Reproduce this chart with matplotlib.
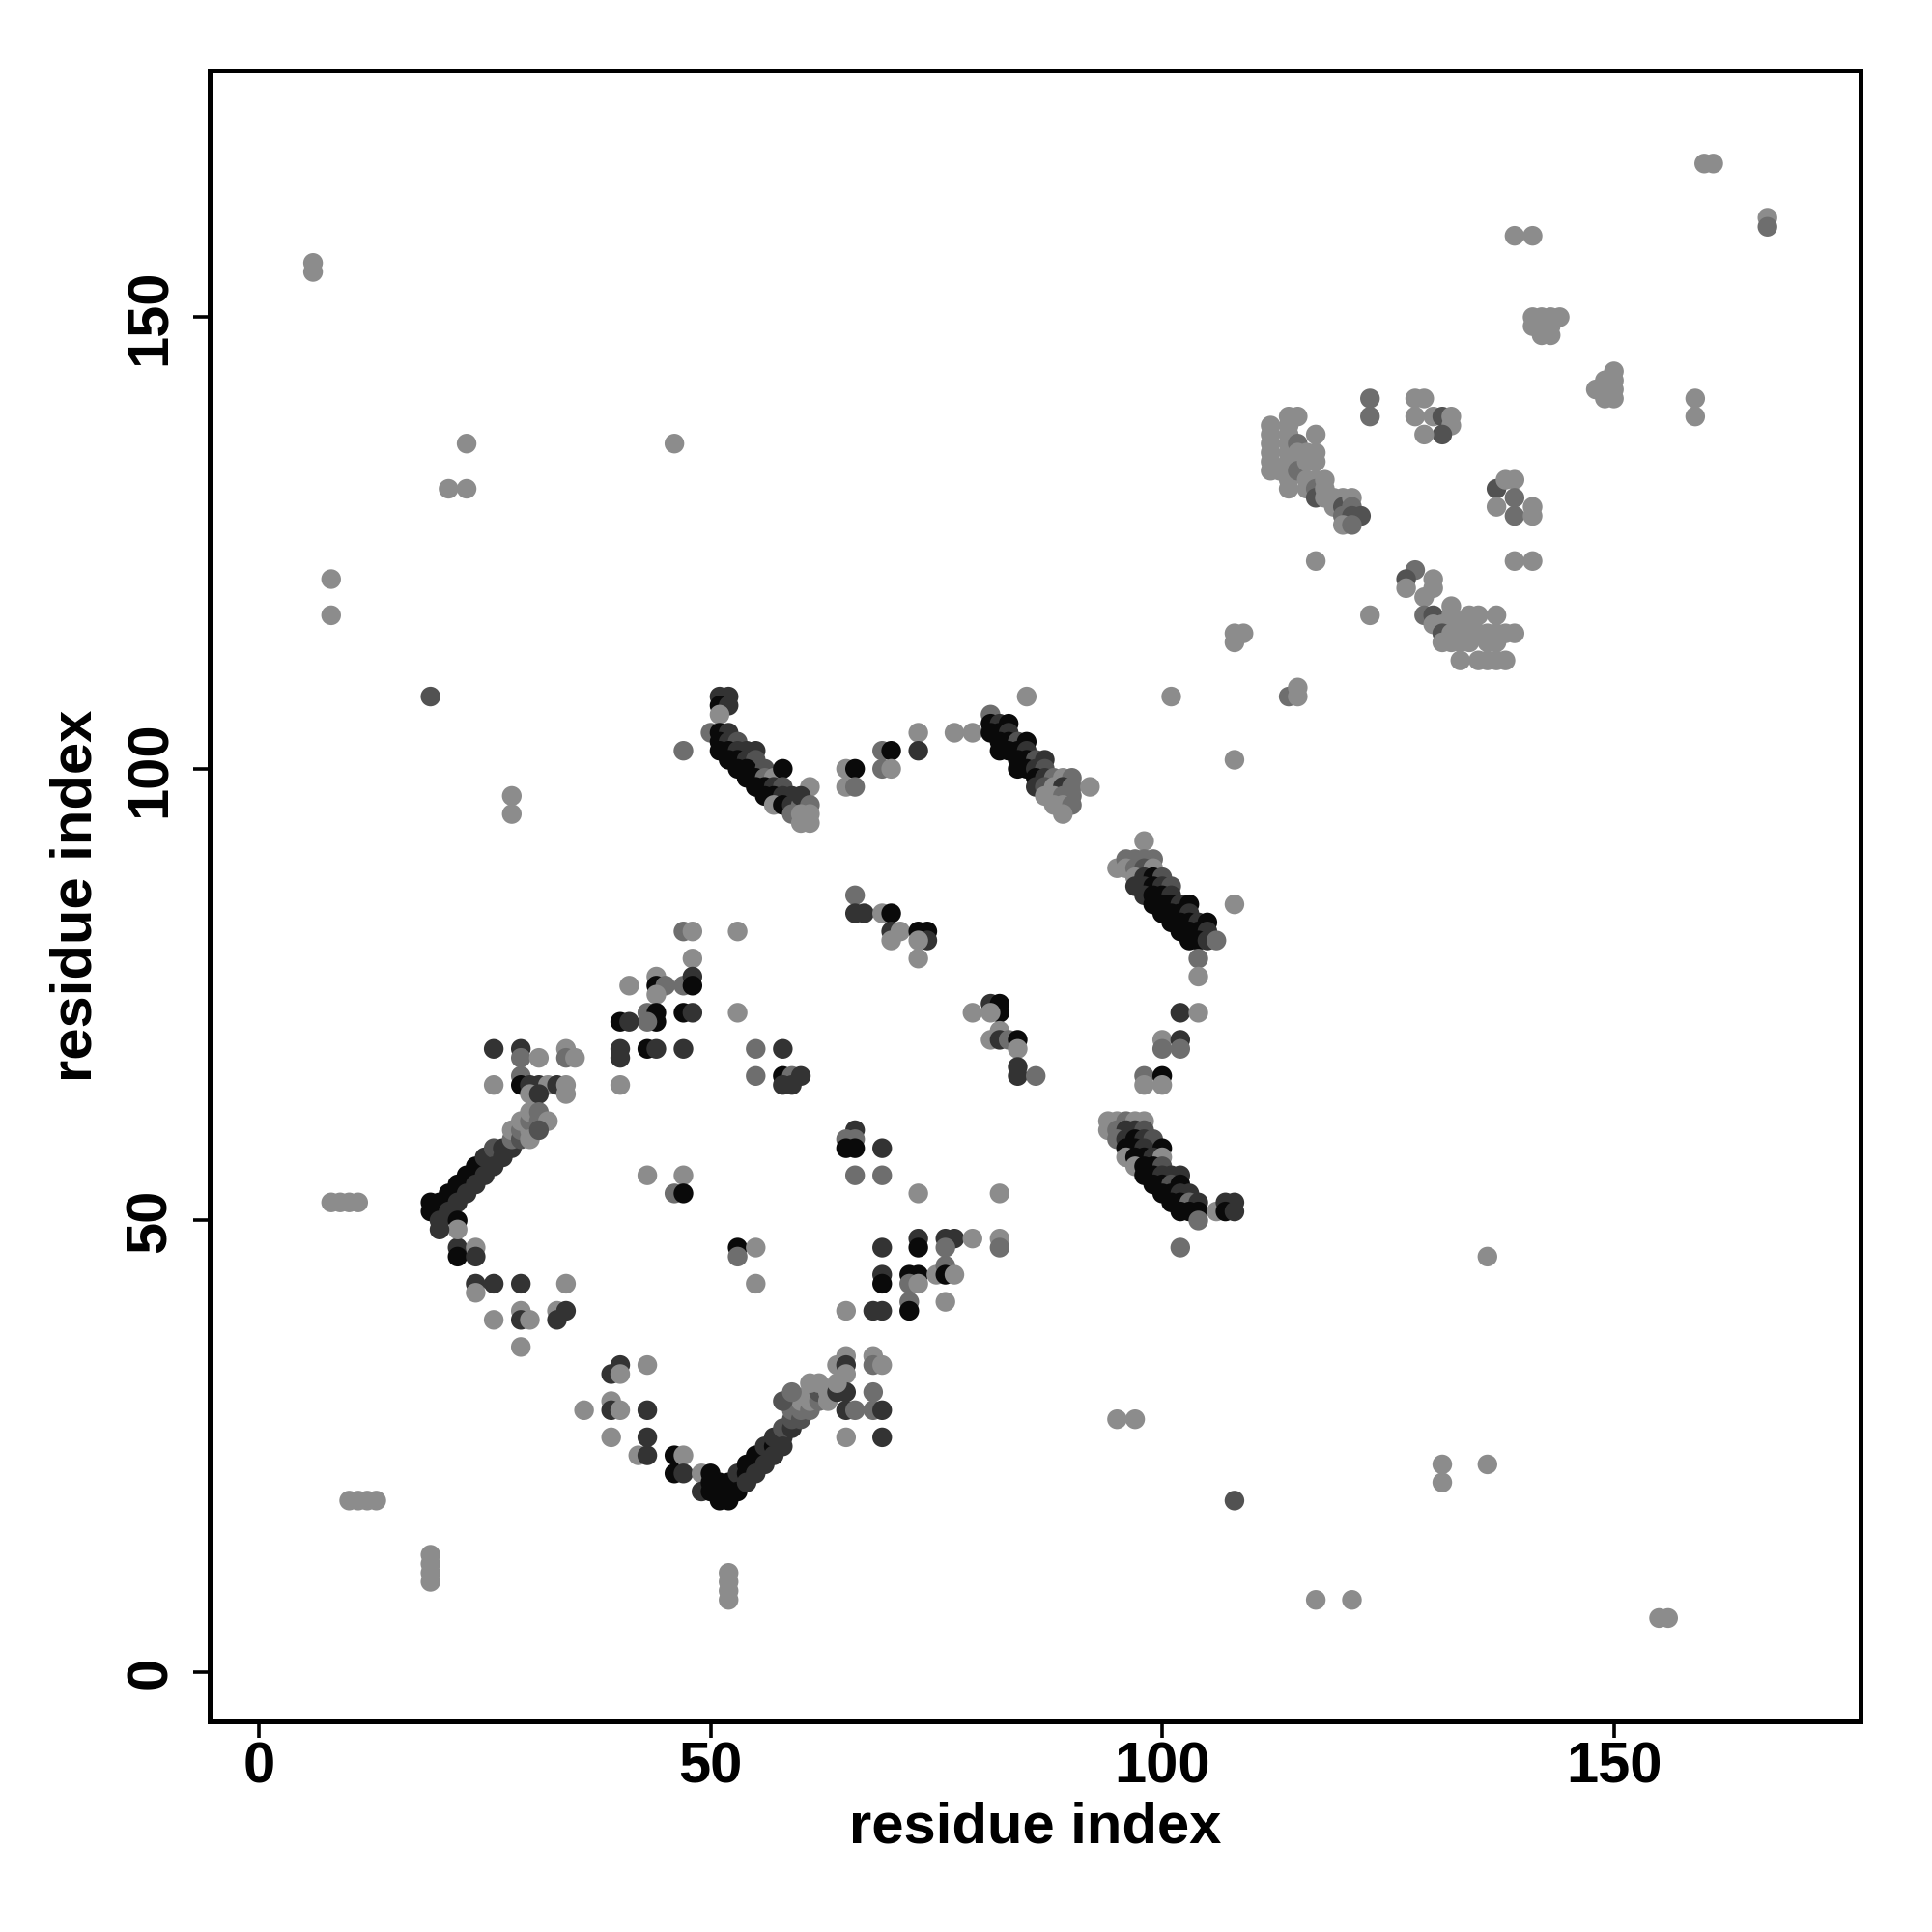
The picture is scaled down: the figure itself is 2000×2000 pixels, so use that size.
import matplotlib
matplotlib.use("Agg")
import matplotlib.pyplot as plt

# grey level per contact class (0 = black, 1 = white)
levels = {"K": 0.04, "D": 0.20, "M": 0.32, "G": 0.43, "L": 0.55}

# contacts: (residue i, residue j, class)
lower_v = [
    (22,47,"D"),(22,46,"K"),(24,47,"L"),(24,46,"D"),
    (24,43,"D"),(24,42,"L"),(26,43,"D"),(29,43,"D"),(34,43,"L"),
    (26,39,"L"),(29,40,"L"),(29,39,"D"),(30,39,"L"),(33,40,"L"),(34,40,"D"),(33,39,"D"),
    (29,36,"L"),(40,34,"D"),(39,33,"D"),(40,33,"L"),(43,34,"L"),
    (39,30,"L"),(36,29,"L"),(39,29,"D"),(40,29,"L"),(43,29,"D"),
    (39,26,"L"),(43,26,"D"),(42,24,"L"),(43,24,"D"),(46,24,"K"),(47,24,"L"),
    (46,22,"K"),(47,22,"D"),(49,22,"L"),
]
lower_band = [
    (49,20,"D"),(50,22,"K"),(50,21,"K"),(50,20,"K"),(51,21,"K"),(51,20,"K"),(51,19,"K"),
    (52,20,"K"),(52,19,"K"),(52,21,"K"),(53,21,"K"),(53,22,"D"),(53,20,"K"),
    (54,22,"K"),(54,23,"K"),(54,21,"D"),(55,23,"K"),(55,24,"K"),(55,22,"D"),
    (56,24,"K"),(56,25,"D"),(56,23,"D"),(57,25,"K"),(57,26,"D"),(57,24,"D"),
    (58,26,"D"),(58,27,"M"),(58,25,"D"),(59,27,"D"),(59,28,"M"),(59,29,"G"),
    (60,28,"M"),(60,29,"G"),(60,30,"L"),(61,29,"G"),(61,30,"L"),(61,31,"L"),
    (62,30,"G"),(62,31,"M"),(63,31,"L"),(63,30,"L"),(64,31,"D"),(65,31,"D"),
    (64,32,"L"),(62,32,"L"),(58,30,"M"),(59,31,"G"),(61,32,"L"),
]
mid_low = [
    (65,35,"L"),(64,34,"L"),(65,34,"D"),(65,33,"L"),(68,35,"L"),(68,34,"G"),(69,34,"L"),
    (68,31,"G"),(65,29,"D"),(66,29,"G"),(68,29,"G"),(69,29,"D"),(65,26,"L"),(69,26,"D"),
    (65,40,"L"),(68,40,"D"),(69,40,"D"),(72,41,"G"),(72,40,"K"),(76,41,"L"),
    (69,44,"D"),(69,43,"K"),(72,44,"K"),(73,44,"K"),(72,43,"G"),(73,43,"L"),
    (75,44,"L"),(76,45,"G"),(76,44,"K"),(77,44,"L"),
    (69,47,"D"),(73,48,"D"),(73,47,"K"),(76,48,"D"),(77,48,"D"),(79,48,"L"),
    (82,48,"L"),(82,47,"G"),(76,47,"G"),
    (53,47,"K"),(53,46,"G"),(55,47,"L"),(55,43,"L"),
    (43,55,"L"),(47,55,"L"),(46,53,"G"),(47,53,"K"),
]
mid_core = [
    (58,69,"D"),(55,69,"G"),(55,66,"G"),(58,66,"K"),(59,66,"G"),(60,66,"D"),(58,65,"D"),(59,65,"D"),
    (66,60,"D"),(65,59,"G"),(66,59,"G"),(65,58,"K"),(66,58,"K"),(69,58,"D"),
    (66,55,"G"),(69,55,"G"),(73,53,"L"),(82,53,"L"),
    (66,86,"G"),(66,84,"D"),(67,84,"D"),(69,84,"L"),(70,84,"K"),(70,82,"D"),(71,82,"L"),
    (70,81,"L"),(73,82,"K"),(74,82,"K"),(74,81,"D"),(73,81,"L"),(73,79,"L"),
    (79,73,"L"),(81,74,"D"),(82,74,"K"),(82,73,"K"),(81,73,"L"),(82,71,"L"),
    (81,70,"L"),(82,70,"D"),(83,70,"G"),(84,70,"K"),(84,69,"L"),(84,67,"D"),(84,66,"D"),(86,66,"G"),
]
upper_left_v = [
    (47,82,"G"),(48,82,"L"),(53,82,"L"),(48,79,"L"),
    (44,77,"L"),(41,76,"L"),(44,76,"K"),(45,76,"G"),(47,76,"G"),(48,77,"D"),(48,76,"K"),(44,75,"L"),
    (43,73,"G"),(44,73,"K"),(44,72,"K"),(43,72,"G"),(40,72,"K"),(41,72,"D"),(47,73,"K"),
    (48,73,"D"),(53,73,"L"),
    (26,69,"D"),(29,69,"D"),(29,68,"G"),(31,68,"L"),(34,69,"L"),(34,68,"G"),(35,68,"L"),
    (40,69,"D"),(40,68,"D"),(43,69,"K"),(44,69,"D"),(47,69,"D"),
    (26,65,"L"),(29,66,"G"),(29,65,"K"),(30,65,"D"),(31,65,"D"),(32,65,"L"),(33,65,"D"),
    (34,65,"L"),(34,64,"L"),(40,65,"L"),(30,64,"L"),(31,64,"D"),
]
left_band = [
    (19,52,"K"),(19,51,"K"),(20,52,"K"),(20,51,"K"),(20,50,"D"),(21,53,"K"),(21,52,"K"),
    (21,51,"D"),(22,54,"K"),(22,53,"K"),(22,52,"D"),(23,55,"K"),(23,54,"K"),(23,53,"D"),
    (24,55,"K"),(24,56,"K"),(24,54,"D"),(25,56,"K"),(25,57,"D"),(25,55,"D"),
    (26,57,"D"),(26,58,"M"),(26,56,"D"),(27,57,"D"),(27,58,"D"),(28,58,"D"),(28,59,"G"),
    (28,60,"L"),(29,59,"M"),(29,60,"G"),(29,61,"L"),(30,60,"L"),(30,61,"G"),(30,62,"L"),
    (31,61,"G"),(31,62,"G"),(32,61,"L"),(30,59,"L"),(31,60,"M"),
    (22,50,"K"),(22,49,"L"),(20,49,"D"),
]
band_e = [
    (51,108,"D"),(52,108,"D"),(51,107,"K"),(52,107,"D"),(51,106,"L"),
    (50,104,"G"),(51,104,"K"),(52,104,"D"),(51,103,"K"),(52,103,"D"),(53,103,"M"),
    (51,102,"K"),(52,102,"K"),(53,102,"D"),(54,102,"D"),(55,102,"D"),(52,101,"K"),
    (53,101,"K"),(54,101,"D"),(55,101,"M"),(53,100,"K"),(54,100,"K"),(56,100,"M"),
    (54,99,"K"),(55,99,"K"),(56,99,"G"),(57,99,"L"),(58,100,"K"),(55,98,"K"),(56,98,"K"),
    (57,98,"D"),(58,98,"M"),(56,97,"K"),(57,97,"K"),(58,97,"D"),(59,97,"D"),(57,96,"L"),
    (58,96,"K"),(59,96,"D"),(60,96,"G"),(61,98,"L"),(60,97,"D"),(61,96,"G"),(59,95,"G"),
    (60,95,"L"),(61,95,"L"),(60,94,"L"),(61,94,"L"),(47,102,"G"),
    (65,100,"L"),(66,100,"K"),(65,98,"L"),(66,98,"G"),(69,102,"G"),(70,102,"K"),
    (69,100,"G"),(70,100,"L"),(73,104,"L"),(73,102,"D"),(77,104,"L"),(79,104,"L"),
]
band_g = [
    (81,106,"G"),(81,105,"K"),(82,105,"D"),(83,105,"K"),(81,104,"K"),(82,104,"K"),(83,104,"D"),
    (82,103,"K"),(83,103,"K"),(84,103,"M"),(85,103,"K"),(82,102,"K"),(83,102,"K"),(84,102,"K"),
    (85,102,"D"),(84,101,"K"),(85,101,"K"),(86,101,"M"),(87,101,"D"),(84,100,"K"),(85,100,"K"),
    (86,100,"D"),(87,100,"M"),(86,99,"K"),(87,99,"D"),(88,99,"G"),(89,99,"L"),(90,99,"G"),
    (86,98,"D"),(87,98,"M"),(88,98,"L"),(89,98,"D"),(90,98,"G"),(87,97,"L"),(88,97,"L"),
    (89,97,"G"),(90,97,"G"),(88,96,"L"),(89,96,"L"),(90,96,"G"),(89,95,"L"),(92,98,"L"),
    (85,108,"L"),
]
band_h = [
    (98,92,"L"),(95,89,"L"),(96,90,"G"),(97,90,"G"),(98,90,"G"),(99,90,"G"),(96,89,"L"),
    (97,89,"G"),(98,89,"M"),(99,89,"L"),(97,88,"L"),(98,88,"D"),(99,88,"K"),(100,88,"M"),
    (97,87,"D"),(98,87,"D"),(99,87,"K"),(100,87,"D"),(101,87,"M"),(98,86,"D"),(99,86,"K"),
    (100,86,"K"),(101,86,"D"),(99,85,"K"),(100,85,"K"),(101,85,"K"),(102,85,"D"),(103,85,"K"),
    (100,84,"K"),(101,84,"K"),(102,84,"K"),(103,84,"D"),(101,83,"K"),(102,83,"K"),(103,83,"K"),
    (104,83,"D"),(105,83,"K"),(102,82,"K"),(103,82,"K"),(104,82,"K"),(105,82,"D"),(103,81,"K"),
    (104,81,"K"),(105,81,"D"),(106,81,"G"),(108,85,"L"),
    (104,79,"G"),(104,77,"L"),(102,73,"D"),(104,73,"L"),
    (100,70,"L"),(102,70,"D"),(100,69,"G"),(102,69,"G"),
    (98,66,"G"),(100,66,"K"),(98,65,"L"),(100,65,"L"),
]
band_i = [
    (94,61,"L"),(95,61,"L"),(96,61,"G"),(97,61,"L"),(98,61,"L"),(94,60,"L"),(95,60,"G"),
    (96,60,"D"),(97,60,"D"),(98,60,"M"),(95,59,"G"),(96,59,"D"),(97,59,"K"),(98,59,"D"),
    (99,59,"M"),(96,58,"K"),(97,58,"K"),(98,58,"D"),(100,58,"K"),(96,57,"L"),(97,57,"K"),
    (98,57,"K"),(99,57,"D"),(100,57,"L"),(97,56,"L"),(98,56,"K"),(99,56,"K"),(100,56,"M"),
    (98,55,"K"),(99,55,"K"),(100,55,"D"),(101,55,"D"),(102,55,"D"),(99,54,"K"),(100,54,"K"),
    (101,54,"M"),(102,54,"K"),(100,53,"K"),(101,53,"K"),(102,53,"D"),(103,53,"D"),
    (101,52,"K"),(102,52,"K"),(103,52,"G"),(104,52,"D"),(102,51,"K"),(103,51,"K"),
    (104,51,"K"),(104,50,"G"),(106,51,"L"),(107,52,"D"),(108,52,"D"),(107,51,"K"),
    (108,51,"D"),(102,47,"G"),
]
upper_right = [
    (108,115,"L"),(109,115,"L"),(108,114,"L"),(114,108,"G"),(115,108,"L"),(115,109,"L"),
    (101,108,"L"),(108,101,"L"),(117,123,"L"),(123,117,"L"),
    (128,122,"G"),(127,121,"M"),(127,120,"L"),(130,121,"L"),(130,120,"L"),(129,119,"L"),
    (132,118,"L"),(129,117,"G"),(130,117,"M"),(132,117,"L"),(134,117,"L"),(135,117,"L"),
    (137,117,"L"),(130,116,"L"),(131,116,"L"),(133,116,"L"),(134,116,"L"),
    (131,115,"M"),(132,115,"L"),(133,115,"L"),(134,115,"L"),(135,115,"L"),(136,115,"L"),
    (137,115,"L"),(138,115,"L"),(139,115,"L"),(131,114,"L"),(132,114,"L"),(133,114,"L"),
    (134,114,"L"),(136,114,"L"),(137,114,"L"),(133,112,"L"),(135,112,"L"),(136,112,"L"),
    (137,112,"L"),(138,112,"L"),
    (112,138,"L"),(112,137,"L"),(112,136,"L"),(112,135,"L"),(112,134,"L"),(112,133,"L"),
    (113,133,"L"),(114,139,"L"),(114,138,"L"),(114,137,"L"),(114,136,"L"),(114,135,"L"),
    (114,134,"L"),(114,133,"L"),(114,132,"L"),(114,131,"L"),(115,139,"L"),(115,136,"G"),
    (115,135,"L"),(115,133,"G"),(116,135,"L"),(116,134,"L"),(116,132,"L"),(116,131,"L"),
    (117,137,"L"),(117,135,"L"),(117,134,"L"),(117,132,"L"),(117,131,"G"),(117,130,"M"),
    (118,132,"L"),(118,131,"L"),(118,130,"L"),(119,130,"L"),(119,129,"L"),(120,130,"L"),
    (120,129,"M"),(121,130,"L"),(121,129,"G"),(120,128,"G"),(121,128,"M"),(122,128,"M"),
    (120,127,"L"),(121,127,"G"),
    (123,141,"G"),(123,139,"G"),(128,141,"L"),(129,141,"L"),(128,139,"L"),(130,139,"L"),
    (131,139,"M"),(132,139,"L"),(132,138,"L"),(131,137,"M"),(129,137,"L"),
    (137,131,"M"),(138,132,"L"),(139,132,"L"),(137,129,"L"),(139,130,"G"),(139,128,"G"),
    (141,129,"L"),(141,128,"L"),(139,123,"L"),(141,123,"L"),
    (141,150,"L"),(142,150,"L"),(143,150,"L"),(144,150,"L"),(141,149,"L"),(142,149,"L"),
    (143,149,"L"),(142,148,"L"),(143,148,"L"),
    (148,142,"L"),(149,143,"L"),(149,142,"L"),(149,141,"L"),(150,144,"L"),(150,143,"L"),
    (150,142,"L"),(150,141,"L"),
    (159,141,"L"),(159,139,"L"),(139,159,"L"),(141,159,"L"),(160,167,"L"),(161,167,"L"),
    (167,161,"L"),(167,160,"G"),
]
scattered = [
    (136,46,"L"),(131,23,"L"),(131,21,"L"),(136,23,"L"),(108,19,"M"),(117,8,"L"),(121,8,"L"),
    (155,6,"L"),(156,6,"L"),(95,28,"L"),(97,28,"L"),
    (6,156,"L"),(6,155,"L"),(8,121,"L"),(8,117,"L"),(21,131,"L"),(23,131,"L"),(23,136,"L"),
    (46,136,"L"),(19,108,"M"),(28,97,"L"),(28,95,"L"),
    (8,52,"L"),(9,52,"L"),(10,52,"L"),(11,52,"L"),
    (10,19,"L"),(11,19,"L"),(12,19,"L"),(13,19,"L"),
    (19,10,"L"),(19,11,"L"),(19,12,"L"),(19,13,"L"),
    (52,8,"L"),(52,9,"L"),(52,10,"L"),(52,11,"L"),
]

ticks = [0, 50, 100, 150]
axis_label = "residue index"

plt.rcParams["font.family"] = ["Liberation Sans", "DejaVu Sans"]
plt.rcParams["font.weight"] = "bold"

fig = plt.figure(figsize=(20, 20), dpi=100)
ax = fig.add_axes([0.1085, 0.109, 0.8545, 0.8545])

groups = [scattered, upper_right, lower_v, mid_low, mid_core, upper_left_v,
          left_band, lower_band, band_e, band_g, band_h, band_i]
for grp in groups:
    xs = [p[0] for p in grp]
    ys = [p[1] for p in grp]
    cs = [str(levels[p[2]]) for p in grp]
    ax.scatter(xs, ys, s=215, c=cs, linewidths=0, zorder=2)

ax.set_xlim(-5.45, 177.3)
ax.set_ylim(-5.45, 177.3)
ax.set_xticks(ticks)
ax.set_yticks(ticks)
ax.set_xticklabels([str(t) for t in ticks])
ax.set_yticklabels([str(t) for t in ticks], rotation=90, va="center")
for sp in ax.spines.values():
    sp.set_linewidth(3.6)
ax.tick_params(axis="both", direction="out", length=12, width=2.6,
               labelsize=43)
ax.tick_params(axis="x", pad=3)
ax.tick_params(axis="y", pad=12)

ax.set_xlabel(axis_label, fontsize=43, fontweight="bold")
ax.set_ylabel(axis_label, fontsize=43, fontweight="bold")
ax.xaxis.set_label_coords(0.5, -0.0644)
ax.xaxis.label.set_va("center")
ax.yaxis.set_label_coords(-0.0807, 0.5)
ax.yaxis.label.set_va("center")
ax.yaxis.label.set_ha("center")

fig.savefig("out.png", dpi=100, facecolor="white")
